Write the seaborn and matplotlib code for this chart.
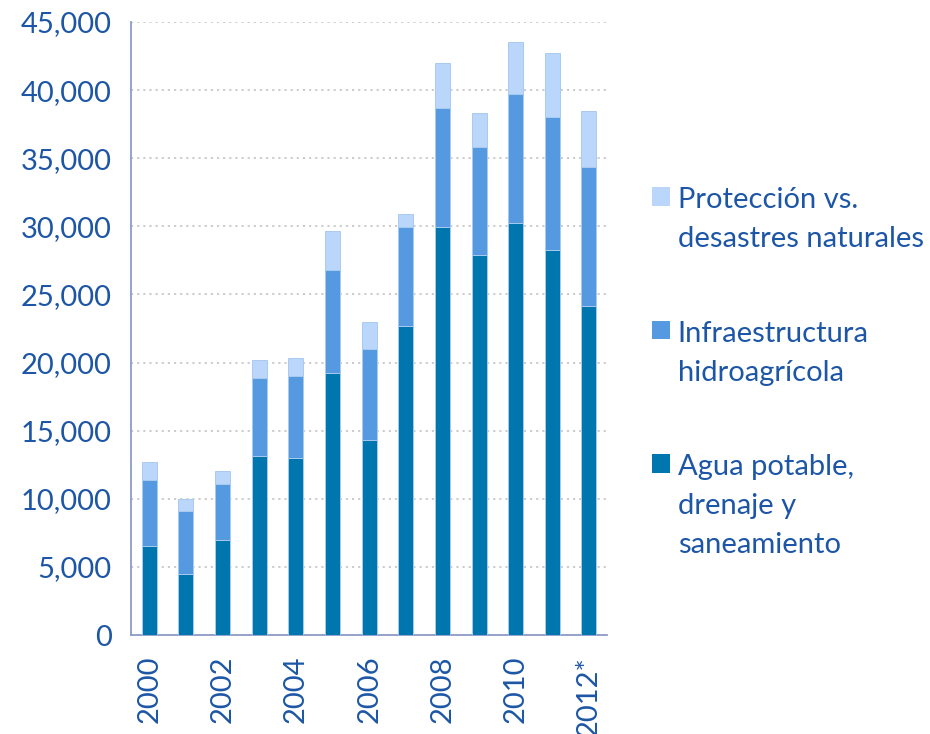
import seaborn as sns
import numpy as np
import pandas as pd
import matplotlib.pyplot as plt
from matplotlib.ticker import FuncFormatter, FixedLocator
from matplotlib.patches import Patch

sns.set_style("white")
plt.rcParams['font.family'] = ['Lato', 'DejaVu Sans']

years = ["2000", "2001", "2002", "2003", "2004", "2005", "2006",
         "2007", "2008", "2009", "2010", "2011", "2012*"]
agua = [6550, 4500, 7000, 13140, 13020, 19240, 14280,
        22660, 29950, 27860, 30260, 28260, 24120]
infra = [4850, 4600, 4110, 5740, 6000, 7580, 6680,
         7290, 8730, 7960, 9450, 9750, 10240]
proteccion = [1280, 890, 910, 1320, 1320, 2840, 2010,
              980, 3280, 2490, 3830, 4740, 4070]

labels = ["Agua potable,\ndrenaje y\nsaneamiento",
          "Infraestructura\nhidroagrícola",
          "Protección vs.\ndesastres naturales"]
colors = ["#0076AE", "#5599E0", "#BAD7FB"]
text_color = "#1D56A6"
axis_color = "#8E9BC6"
fs = 21

df = pd.DataFrame({"year": years, "agua": agua, "infra": infra, "prot": proteccion})
df["lvl1"] = df["agua"]
df["lvl2"] = df["agua"] + df["infra"]
df["lvl3"] = df["lvl2"] + df["prot"]

fig = plt.figure(figsize=(9.3, 7.34), dpi=100)
ax = fig.add_axes([131 / 930, 99 / 734, 476.3 / 930, 613 / 734])

# stacked look: draw cumulative totals, tallest first
for col, c in zip(["lvl3", "lvl2", "lvl1"], colors[::-1]):
    sns.barplot(data=df, x="year", y=col, color=c, width=0.41, ax=ax,
                edgecolor="#A9CBEE", linewidth=0.7, saturation=1, zorder=3)

ax.set_ylim(0, 45000)
ax.set_xlim(-0.5, len(years) - 0.5)
ax.set_xlabel("")
ax.set_ylabel("")

ax.yaxis.set_major_locator(FixedLocator(np.arange(0, 45001, 5000)))
ax.yaxis.set_major_formatter(FuncFormatter(lambda v, p: f"{v:,.0f}"))
ax.grid(axis="y", color="#C8C8C8", linestyle=(0, (1.2, 2.2)), linewidth=1.3, zorder=0)
ax.set_axisbelow(True)

pos = np.arange(len(years))
ax.set_xticks(pos[::2])
ax.set_xticklabels(years[::2], rotation=90)
ax.set_xticks(np.arange(-0.5, len(years)), minor=True)
ax.tick_params(axis="x", which="major", length=0, pad=15, labelsize=fs, labelcolor=text_color)
ax.tick_params(axis="x", which="minor", length=7, width=1.3, color=axis_color, direction="out")
ax.tick_params(axis="y", length=7, width=1.3, color=axis_color, direction="out",
               pad=7, labelsize=fs, labelcolor=text_color)

for s in ["top", "right"]:
    ax.spines[s].set_visible(False)
for s in ["left", "bottom"]:
    ax.spines[s].set_color(axis_color)
    ax.spines[s].set_linewidth(1.3)

handles = [Patch(facecolor=c, edgecolor="none") for c in colors]
leg = fig.legend(handles[::-1], labels[::-1], loc="upper left",
                 bbox_to_anchor=(652 / 930, 1 - 187 / 734), frameon=False,
                 fontsize=fs, labelcolor=text_color, borderpad=0, borderaxespad=0,
                 handlelength=0.6, handleheight=0.6, handletextpad=0.28,
                 labelspacing=2.35)
for t in leg.get_texts():
    t.set_linespacing(1.62)
for col in leg._legend_handle_box.get_children():
    for item in col.get_children():
        item.align = "top"

fig.savefig("out.png", dpi=100)
